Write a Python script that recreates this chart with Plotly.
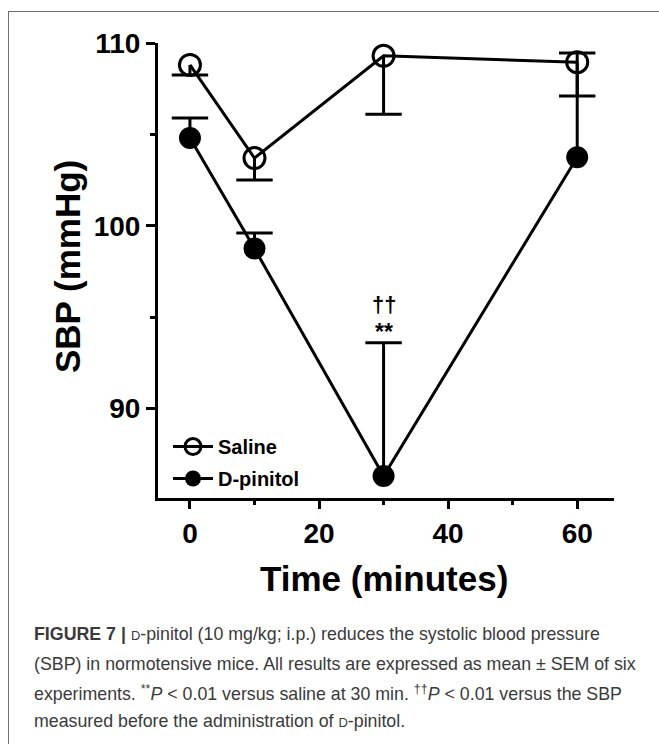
import plotly.graph_objects as go

# ---- data ----
time_min = [0, 10, 30, 60]
saline_mean = [108.8, 103.7, 109.3, 108.95]
saline_sem = [0.55, 1.2, 3.2, 1.85]
pinitol_mean = [104.8, 98.75, 86.3, 103.75]
pinitol_sem = [1.1, 0.85, 7.3, 5.7]
x_ticks = [0, 20, 40, 60]
x_minor = [10, 30, 50]
y_ticks = [90, 100, 110]
y_minor = [95, 105]
sig_time = 30
sig_labels = ["**", "††"]

W, H = 659, 744
L, R, T, B = 158, 45, 43, 246
PW, PH = W - L - R, H - T - B


def px(xp):
    return (xp - L) / PW


def py(yp):
    return (H - B - yp) / PH


FONT = "Liberation Sans, Arial, sans-serif"
BLACK = "#000000"

fig = go.Figure()

saline_low = [m - s for m, s in zip(saline_mean, saline_sem)]
pin_high = [m + s for m, s in zip(pinitol_mean, pinitol_sem)]

# error bars (one-sided): stems via error_y, caps via line markers
fig.add_trace(go.Scatter(
    x=time_min, y=saline_mean, mode="markers", marker=dict(size=1, opacity=0),
    error_y=dict(type="data", symmetric=False, array=[0] * len(time_min), arrayminus=saline_sem,
                 width=0, thickness=3, color=BLACK),
    showlegend=False, hoverinfo="skip"))
fig.add_trace(go.Scatter(
    x=time_min, y=saline_low, mode="markers",
    marker=dict(symbol="line-ew", size=26, line=dict(width=3, color=BLACK)),
    showlegend=False, hoverinfo="skip"))
fig.add_trace(go.Scatter(
    x=time_min, y=pinitol_mean, mode="markers", marker=dict(size=1, opacity=0),
    error_y=dict(type="data", symmetric=False, array=pinitol_sem, arrayminus=[0] * len(time_min),
                 width=0, thickness=3, color=BLACK),
    showlegend=False, hoverinfo="skip"))
fig.add_trace(go.Scatter(
    x=time_min, y=pin_high, mode="markers",
    marker=dict(symbol="line-ew", size=26, line=dict(width=3, color=BLACK)),
    showlegend=False, hoverinfo="skip"))

fig.add_trace(go.Scatter(
    x=time_min, y=saline_mean, mode="lines+markers", name="Saline", legendgroup="a",
    line=dict(color=BLACK, width=3),
    marker=dict(symbol="circle-open", size=21, line=dict(width=3, color=BLACK), color=BLACK)))
fig.add_trace(go.Scatter(
    x=time_min, y=pinitol_mean, mode="lines+markers", name="D-pinitol", legendgroup="b",
    line=dict(color=BLACK, width=3),
    marker=dict(symbol="circle", size=22, color=BLACK)))

# significance marks
sig_i = time_min.index(sig_time)
fig.add_annotation(x=sig_time, y=pin_high[sig_i], yshift=-4, text=sig_labels[0],
                   showarrow=False, yanchor="bottom", xanchor="center",
                   font=dict(family=FONT, size=23, color=BLACK, weight="bold"))
fig.add_annotation(x=sig_time, y=pin_high[sig_i], yshift=24, text=sig_labels[1],
                   showarrow=False, yanchor="bottom", xanchor="center",
                   font=dict(family=FONT, size=22, color=BLACK, weight="bold"))

# axis titles
fig.add_annotation(xref="paper", yref="paper", x=px(67), y=py(267), text="<b>SBP (mmHg)</b>",
                   textangle=-90, showarrow=False, xanchor="center", yanchor="middle",
                   font=dict(family=FONT, size=35, color=BLACK))
fig.add_annotation(xref="paper", yref="paper", x=px(384), y=py(578), text="<b>Time (minutes)</b>",
                   showarrow=False, xanchor="center", yanchor="middle",
                   font=dict(family=FONT, size=35, color=BLACK))

# caption
CAP = "Liberation Sans, Arial, sans-serif"
sc = "<span style='font-size:13px'>D</span>"
cap_lines = [
    "<b>FIGURE 7 |</b> " + sc + "-pinitol (10 mg/kg; i.p.) reduces the systolic blood pressure",
    "(SBP) in normotensive mice. All results are expressed as mean ± SEM of six",
    "experiments. <sup>**</sup><i>P</i> &lt; 0.01 versus saline at 30 min. <sup>††</sup><i>P</i> &lt; 0.01 versus the SBP",
    "measured before the administration of " + sc + "-pinitol.",
]
cap_y = [634, 664, 693, 721]
for t, yy in zip(cap_lines, cap_y):
    fig.add_annotation(xref="paper", yref="paper", x=px(32), y=py(yy), text=t,
                       showarrow=False, xanchor="left", yanchor="middle",
                       font=dict(family=CAP, size=17.8, color="#3a3a3a"))

# frame lines
fig.add_shape(type="line", xref="paper", yref="paper", x0=px(8), x1=px(700), y0=py(11.5), y1=py(11.5),
              line=dict(color="#6e6e6e", width=1))
fig.add_shape(type="line", xref="paper", yref="paper", x0=px(8.5), x1=px(8.5), y0=py(11), y1=py(760),
              line=dict(color="#6e6e6e", width=1))

fig.update_layout(
    width=W, height=H, margin=dict(l=L, r=R, t=T, b=B),
    plot_bgcolor="white", paper_bgcolor="white",
    font=dict(family=FONT, color=BLACK),
    legend=dict(x=px(168), y=py(427), xanchor="left", yanchor="top",
                font=dict(family=FONT, size=20, color=BLACK, weight="bold"),
                bgcolor="rgba(0,0,0,0)", itemwidth=40, tracegroupgap=3),
    showlegend=True,
)
fig.update_xaxes(range=[-4.95, 65.7], tickmode="array", tickvals=x_ticks, showgrid=False,
                 zeroline=False, showline=True, linewidth=3, linecolor=BLACK,
                 ticks="outside", ticklen=8, tickwidth=3, tickcolor=BLACK,
                 tickfont=dict(family=FONT, size=28, color=BLACK, weight="bold"),
                 minor=dict(tickvals=x_minor, ticks="outside", ticklen=4, tickwidth=3, tickcolor=BLACK))
fig.update_yaxes(range=[85.1, 110], tickmode="array", tickvals=y_ticks, showgrid=False,
                 zeroline=False, showline=True, linewidth=3, linecolor=BLACK,
                 ticks="outside", ticklen=9, tickwidth=3, tickcolor=BLACK,
                 tickfont=dict(family=FONT, size=28, color=BLACK, weight="bold"),
                 minor=dict(tickvals=y_minor, ticks="outside", ticklen=5, tickwidth=3, tickcolor=BLACK))

fig.write_html("out.html", config={"displayModeBar": False},
               post_script="document.body.style.margin='0';")
